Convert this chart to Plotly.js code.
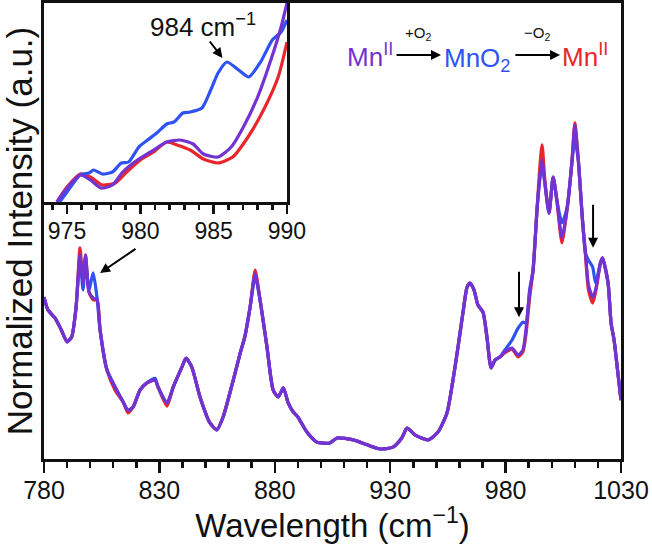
<!DOCTYPE html>
<html>
<head>
<meta charset="utf-8">
<script src="https://cdn.plot.ly/plotly-3.0.1.min.js"></script>
<style>
  html, body { margin: 0; padding: 0; background: #fff; }
  #plot { width: 652px; height: 544px; }
</style>
</head>
<body>
<div id="plot"></div>
<script>
// Main spectrum (cm-1 vs normalized intensity)
const wave = [780, 781.7, 784.8, 787.5, 790, 792, 793.9, 795.6, 796.9, 798, 799.5, 801.3, 803, 804.3,
  807.3, 810.8, 814.3, 816.4, 818.6, 821.6, 824.6, 828.1, 829.4, 833.3, 836, 839.8, 841.5, 844,
  847.6, 851.9, 854.9, 857.6, 862, 865, 867, 869.3, 871.5, 873.6, 876.6, 879.3, 881.5, 883.7,
  885.8, 888, 890, 893.9, 898.2, 903.8, 907, 914, 920, 925.6, 931.2, 935, 937.3, 940.7, 946.4,
  950.7, 954.6, 957.2, 959.4, 961.5, 963.3, 964.6, 966.3, 968, 970.2, 971.9, 973.7, 975.4,
  977.6, 979.7, 982.8, 985.4, 987.5, 988.8, 990.4, 991.9, 993.6, 994.9, 995.8, 997, 998.8,
  1000.6, 1002.2, 1004.4, 1006.6, 1008.7, 1010, 1011.5, 1013.2, 1014.6, 1015.9, 1017.7, 1019,
  1021.1, 1022, 1024.4, 1025.7, 1027, 1028.5, 1030];

const mnII = [35.5, 32.7, 30.9, 28.3, 25.7, 26.8, 33.3, 44.7, 38.6, 44.7, 36.6, 35.3, 34.9, 28.3,
  19.5, 15.8, 12.5, 10.7, 11.4, 15.1, 16.7, 17.3, 15.8, 12.3, 15.8, 20.2, 22.1, 20.2,
  13.6, 7.9, 6.4, 9.2, 17.3, 23.2, 26.8, 33.3, 40.6, 34.9, 24.6, 15.1, 13.6, 15.6,
  12.3, 10.3, 9.2, 5.9, 3.7, 3.5, 4.6, 4.2, 3.1, 2.2, 2.6, 4.6, 6.8, 5.3, 4.2,
  5.9, 10.1, 17.3, 24.6, 32.0, 37.7, 38.6, 37.1, 33.8, 32.2, 26.8, 20.0, 21.7,
  22.4, 23.5, 24.3, 22.8, 23.9, 28.3, 36.4, 41.4, 54.6, 62.3, 65.6, 60.5, 53.9,
  61.8, 56.8, 48.5, 54.6, 64.9, 73.2, 65.6, 53.1, 45.2, 38.2, 35.5, 37.1,
  43.0, 44.1, 38.6, 29.8, 26.1, 19.5, 12.9];

const mnO2 = [35.5, 32.7, 30.9, 28.3, 25.7, 26.8, 33.3, 44.3, 37.1, 43.2, 37.1, 40.8, 35.3, 28.3,
  19.5, 15.8, 12.5, 10.7, 11.4, 15.1, 16.7, 17.7, 15.8, 12.3, 15.8, 20.2, 22.1, 20.2,
  13.6, 7.9, 6.4, 9.2, 17.3, 23.2, 26.8, 33.3, 40.1, 34.9, 24.6, 15.1, 13.6, 15.6,
  12.3, 10.3, 9.2, 5.9, 3.7, 3.5, 4.6, 4.2, 3.1, 2.2, 2.6, 4.6, 6.8, 5.3, 4.2,
  5.9, 10.1, 17.3, 24.6, 32.0, 37.7, 38.6, 37.1, 33.8, 32.2, 26.8, 20.0, 21.7,
  22.4, 23.9, 26.1, 28.7, 30.0, 29.8, 37.1, 41.4, 54.6, 61.6, 64.9, 60.5, 53.9,
  61.8, 56.8, 51.8, 55.0, 64.9, 70.0, 65.6, 53.1, 45.2, 43.6, 42.1, 38.6,
  43.0, 44.1, 38.6, 29.8, 26.1, 19.5, 12.9];

const mnIIback = [35.5, 32.7, 30.9, 28.3, 25.7, 26.8, 33.3, 46.3, 38.6, 44.7, 36.6, 34.9, 34.9, 28.3,
  19.5, 15.1, 12.5, 10.1, 11.4, 15.1, 16.7, 17.3, 15.8, 11.6, 15.8, 20.2, 22.1, 20.2,
  13.6, 7.9, 6.4, 9.2, 17.3, 23.2, 26.8, 33.3, 41.4, 34.9, 24.6, 15.1, 13.6, 15.6,
  12.3, 10.3, 9.2, 5.9, 3.7, 3.5, 4.6, 4.2, 3.1, 2.2, 2.6, 4.6, 6.8, 5.3, 4.2,
  5.9, 10.1, 17.3, 24.6, 32.0, 37.7, 38.6, 37.1, 33.8, 32.2, 26.8, 20.0, 21.7,
  22.4, 23.3, 24.1, 22.4, 23.5, 27.2, 35.3, 41.4, 54.6, 64.5, 68.9, 61.2, 53.9,
  61.8, 56.8, 47.4, 54.6, 64.9, 73.7, 65.6, 53.1, 44.7, 37.1, 34.2, 36.6,
  43.0, 44.1, 38.6, 29.8, 26.1, 19.5, 12.9];

// Inset: 973-990 cm-1 region, separate traces
const insetBlueX = [974.5, 975, 975.9, 976.5, 976.8, 977.4, 978.1, 978.7, 979.2, 979.9, 980.5, 981.2,
  981.8, 982.3, 982.9, 983.4, 984.2, 984.8, 985.3, 985.9, 986.7, 987.4, 988.2, 989, 989.6, 990];
const insetBlueY = [0, 10, 27, 29, 32, 28, 30, 39, 40, 55, 62, 70,
  78, 80, 89, 90, 94, 112, 129, 140, 132, 125, 140, 162, 170, 182];

const insetPurpleX = [974.3, 975, 975.9, 976.6, 977.3, 978.1, 978.8, 979.8, 980.9, 981.8, 982.7,
  983.6, 984.3, 985.3, 986.2, 987.1, 988, 988.9, 989.6, 990];
const insetPurpleY = [0, 14, 27, 22, 14, 17, 30, 42, 52, 60, 62,
  58, 48, 45, 55, 77, 105, 142, 175, 199];

const insetRedX = [974.4, 975, 975.9, 976.7, 977.4, 978.3, 979, 980, 980.9, 981.8, 982.5,
  983.4, 984.3, 985.3, 986.3, 987.3, 988.4, 989.4, 990];
const insetRedY = [2, 15, 28, 24, 17, 19, 29, 42, 50, 60, 57,
  52, 43, 39, 45, 64, 92, 125, 160];

const insetTicks = [975, 980, 985, 990];
const mainTicks = [780, 830, 880, 930, 980, 1030];

const RED = '#e8262b';
const BLUE = '#2f52f2';
const PURPLE = '#7433d0';
const FONT = 'Liberation Sans, Arial, sans-serif';

function line(x, y, color, xa, ya) {
  return {
    x: x, y: y, xaxis: xa, yaxis: ya,
    mode: 'lines', type: 'scatter',
    line: { color: color, width: 3.2, shape: 'spline', smoothing: 0.6 },
    hoverinfo: 'skip', showlegend: false
  };
}

const traces = [
  line(wave, mnIIback, RED, 'x', 'y'),
  line(wave, mnO2, BLUE, 'x', 'y'),
  line(wave, mnII, PURPLE, 'x', 'y'),
  line(insetRedX, insetRedY, RED, 'x2', 'y2'),
  line(insetBlueX, insetBlueY, BLUE, 'x2', 'y2'),
  line(insetPurpleX, insetPurpleY, PURPLE, 'x2', 'y2')
];

function arrow(xh, yh, xt, yt, xr, yr) {
  return {
    x: xh, y: yh, ax: xt, ay: yt, xref: xr, yref: yr, axref: xr, ayref: yr,
    text: '', showarrow: true, arrowhead: 2, arrowsize: 1, arrowwidth: 2, arrowcolor: '#000'
  };
}

function label(x, y, text, color, size) {
  return {
    x: x, y: y, xref: 'x', yref: 'y', text: text, showarrow: false,
    font: { family: FONT, size: size, color: color }
  };
}

const annotations = [
  arrow(804.3, 40.8, 820.3, 46.3, 'x', 'y'),
  arrow(985.8, 31.1, 985.8, 41.4, 'x', 'y'),
  arrow(1017.9, 46.3, 1017.9, 56.1, 'x', 'y'),
  arrow(985.6, 144, 984.66, 162, 'x2', 'y2'),
  {
    x: 984.3, y: 177, xref: 'x2', yref: 'y2', text: '984 cm<sup>−1</sup>', showarrow: false,
    font: { family: FONT, size: 26, color: '#111' }
  },
  // reaction scheme
  label(921.2, 88.4, 'Mn<sup>II</sup>', PURPLE, 26),
  arrow(952.0, 88.6, 932.1, 88.6, 'x', 'y'),
  label(942.0, 93.4, '+O<sub>2</sub>', '#111', 15),
  label(967.8, 87.6, 'MnO<sub>2</sub>', BLUE, 26),
  arrow(1003.6, 88.6, 983.6, 88.6, 'x', 'y'),
  label(993.6, 93.4, '−O<sub>2</sub>', '#111', 15),
  label(1014.4, 88.4, 'Mn<sup>II</sup>', RED, 26)
];

const layout = {
  width: 652,
  height: 544,
  margin: { l: 44, r: 31, t: 3, b: 85 },
  paper_bgcolor: '#fff',
  plot_bgcolor: '#fff',
  font: { family: FONT, color: '#111' },
  showlegend: false,
  xaxis: {
    range: [780, 1030],
    tickvals: mainTicks,
    ticks: 'outside', ticklen: 11, tickwidth: 2.5, tickcolor: '#111',
    ticklabelstandoff: -4,
    minor: { dtick: 10, ticks: 'outside', ticklen: 6, tickwidth: 2.5, tickcolor: '#111', showgrid: false },
    showgrid: false, zeroline: false,
    showline: true, mirror: true, linewidth: 3, linecolor: '#111',
    tickfont: { family: FONT, size: 25, color: '#111' },
    title: { text: 'Wavelength (cm<sup>−1</sup>)', font: { family: FONT, size: 33, color: '#111' }, standoff: 4 }
  },
  yaxis: {
    range: [0, 100],
    showticklabels: false, ticks: '', showgrid: false, zeroline: false,
    showline: true, mirror: true, linewidth: 3, linecolor: '#111',
    title: { text: 'Normalized Intensity (a.u.)', font: { family: FONT, size: 35, color: '#111' }, standoff: 8 }
  },
  xaxis2: {
    domain: [0, 0.4211], anchor: 'y2',
    range: [973.43, 990],
    tickvals: insetTicks,
    ticks: 'outside', ticklen: 9, tickwidth: 2.5, tickcolor: '#111',
    ticklabelstandoff: -3,
    minor: { dtick: 1, ticks: 'outside', ticklen: 5, tickwidth: 2.5, tickcolor: '#111', showgrid: false },
    showgrid: false, zeroline: false,
    showline: true, mirror: true, linewidth: 3, linecolor: '#111',
    tickfont: { family: FONT, size: 23, color: '#111' }
  },
  yaxis2: {
    domain: [0.5636, 1], anchor: 'x2',
    range: [0, 199],
    showticklabels: false, ticks: '', showgrid: false, zeroline: false,
    showline: true, mirror: true, linewidth: 3, linecolor: '#111'
  },
  annotations: annotations
};

Plotly.newPlot('plot', traces, layout, { staticPlot: true, displayModeBar: false });
</script>
</body>
</html>
